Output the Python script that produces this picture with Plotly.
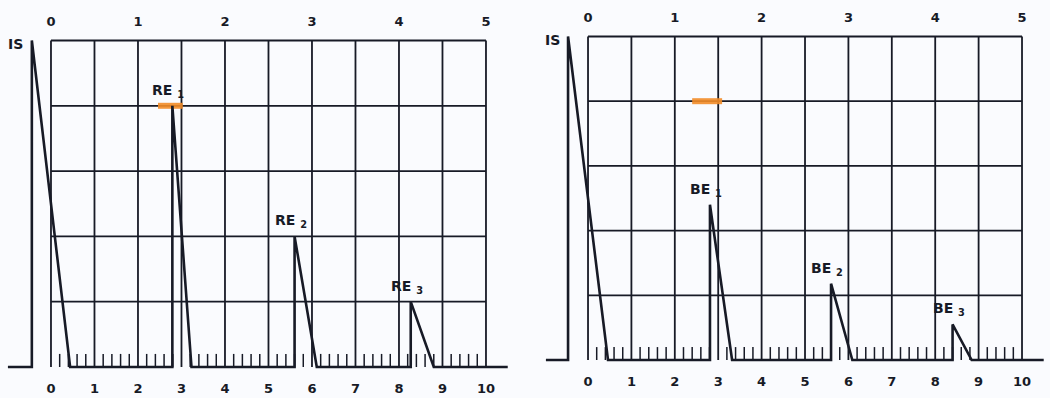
import plotly.graph_objects as go

# scales printed on the screens
bottom_ticks = [0, 1, 2, 3, 4, 5, 6, 7, 8, 9, 10]
top_ticks = [0, 1, 2, 3, 4, 5]
grid_rows = [1, 2, 3, 4, 5]
minor_steps = [0.2, 0.4, 0.6, 0.8]

# left screen: initial pulse + back wall echoes RE1..RE3
left_base = [-0.99, 10.5]
left_start = [-0.44, 2.79, 5.60, 8.27]
left_end = [0.44, 3.23, 6.11, 8.80]
left_height = [5.0, 4.0, 2.0, 1.0]
left_labels = ["IS", "RE <sub>1</sub>", "RE <sub>2</sub>", "RE <sub>3</sub>"]
left_mark = [2.46, 3.03]

# right screen: initial pulse + echoes BE1..BE3
right_base = [-0.97, 10.5]
right_start = [-0.46, 2.81, 5.60, 8.40]
right_end = [0.46, 3.32, 6.09, 8.84]
right_height = [5.0, 2.4, 1.18, 0.55]
right_labels = ["IS", "BE <sub>1</sub>", "BE <sub>2</sub>", "BE <sub>3</sub>"]
right_mark = [2.40, 3.09]
mark_level = 4.0

INK = "#171a26"
FONT = "DejaVu Sans"


def trace_path(base, start, end, height):
    xs, ys = [base[0]], [0]
    for s, e, h in zip(start, end, height):
        xs += [s, s, e]
        ys += [0, h, 0]
    xs.append(base[1])
    ys.append(0)
    return xs, ys


def grid_path():
    xs, ys = [], []
    for x in bottom_ticks:
        xs += [x, x, None]
        ys += [0, grid_rows[-1], None]
    for y in grid_rows:
        xs += [bottom_ticks[0], bottom_ticks[-1], None]
        ys += [y, y, None]
    return xs, ys


def minor_path():
    xs, ys = [], []
    for u in bottom_ticks[:-1]:
        for m in minor_steps:
            xs += [u + m, u + m, None]
            ys += [0, 0.2, None]
    return xs, ys


fig = go.Figure()

panels = [
    ("x", "y", "x3", left_base, left_start, left_end, left_height, left_labels, left_mark),
    ("x2", "y2", "x4", right_base, right_start, right_end, right_height, right_labels, right_mark),
]

for xa, ya, xtop, base, start, end, height, labels, mark in panels:
    gx, gy = grid_path()
    fig.add_trace(go.Scatter(x=gx, y=gy, mode="lines", xaxis=xa, yaxis=ya,
                             line=dict(color=INK, width=1.8), hoverinfo="skip"))
    mx, my = minor_path()
    fig.add_trace(go.Scatter(x=mx, y=my, mode="lines", xaxis=xa, yaxis=ya,
                             line=dict(color=INK, width=1.5), hoverinfo="skip"))
    # orange highlighter stroke
    fig.add_trace(go.Scatter(x=mark, y=[mark_level, mark_level], mode="lines", xaxis=xa, yaxis=ya,
                             line=dict(color="rgba(242,140,40,0.9)", width=6), hoverinfo="skip"))
    px, py = trace_path(base, start, end, height)
    fig.add_trace(go.Scatter(x=px, y=py, mode="lines", xaxis=xa, yaxis=ya,
                             line=dict(color=INK, width=2.6), hoverinfo="skip"))
    fig.add_trace(go.Scatter(x=bottom_ticks, y=[-0.35] * len(bottom_ticks), mode="text",
                             text=[f"<b>{t}</b>" for t in bottom_ticks], xaxis=xa, yaxis=ya,
                             textfont=dict(family=FONT, size=13, color=INK), hoverinfo="skip"))
    fig.add_trace(go.Scatter(x=top_ticks, y=[5.27] * len(top_ticks), mode="text",
                             text=[f"<b>{t}</b>" for t in top_ticks], xaxis=xtop, yaxis=ya,
                             textfont=dict(family=FONT, size=13, color=INK), hoverinfo="skip"))
    for s, h, lab in zip(start, height, labels):
        if lab == "IS":
            fig.add_annotation(x=s, y=h, xref=xa, yref=ya, text=lab, showarrow=False,
                               xanchor="center", yanchor="middle", xshift=-16, yshift=-4,
                               font=dict(family=FONT, size=14, color=INK, weight="bold"))
        else:
            fig.add_annotation(x=s, y=h, xref=xa, yref=ya, text=lab, showarrow=False,
                               xanchor="center", yanchor="middle", xshift=-4, yshift=15,
                               font=dict(family=FONT, size=14, color=INK, weight="bold"))

left_range = [-1.172, 10.897]
right_range = [-1.452, 10.645]
hidden = dict(visible=False, showgrid=False, zeroline=False, fixedrange=True)

fig.update_layout(
    width=1050, height=398,
    margin=dict(l=0, r=0, t=0, b=0),
    showlegend=False,
    paper_bgcolor="#fafbfe",
    plot_bgcolor="#fafbfe",
    xaxis=dict(domain=[0, 0.5], range=left_range, **hidden),
    yaxis=dict(domain=[0, 1], range=[-0.475, 5.620], **hidden),
    xaxis2=dict(domain=[0.5, 1], range=right_range, anchor="y2", **hidden),
    yaxis2=dict(domain=[0, 1], range=[-0.587, 5.564], anchor="x2", **hidden),
    xaxis3=dict(overlaying="x", range=[r / 2 for r in left_range], anchor="y", **hidden),
    xaxis4=dict(overlaying="x2", range=[r / 2 for r in right_range], anchor="y2", **hidden),
)

# the page body has a default 8px margin; drop it so the figure fills the window
fig.write_html("out.html", config={"displayModeBar": False},
               post_script="document.body.style.margin='0';document.body.style.overflow='hidden';")
